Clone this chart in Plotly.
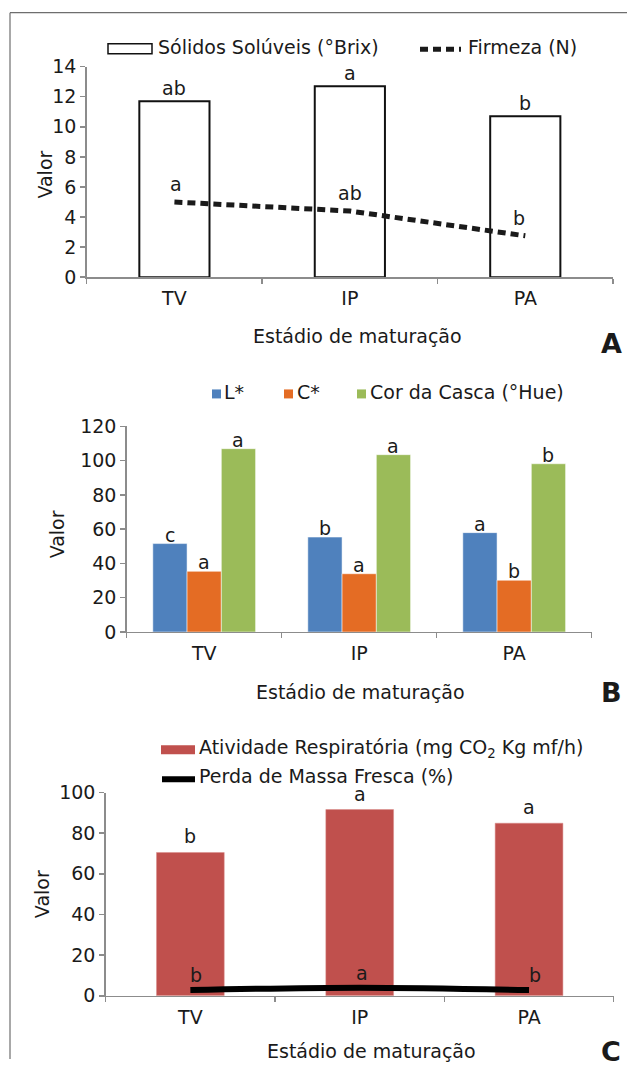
import plotly.graph_objects as go

# ---------------- data ----------------
stages = ["TV", "IP", "PA"]

solidos = [11.7, 12.7, 10.7]          # Sólidos Solúveis (°Brix)
firmeza = [5.0, 4.4, 2.75]            # Firmeza (N)
sig_solidos = ["ab", "a", "b"]
sig_firmeza = ["a", "ab", "b"]

l_star = [51.6, 55.4, 58.0]
c_star = [35.4, 34.0, 30.2]
hue = [107.0, 103.5, 98.2]
sig_l = ["c", "b", "a"]
sig_c = ["a", "a", "b"]
sig_hue = ["a", "a", "b"]

resp = [70.5, 91.6, 84.9]             # Atividade respiratória
perda = [2.8, 4.0, 2.8]               # Perda de massa fresca (%)
sig_resp = ["b", "a", "a"]
sig_perda = ["b", "a", "b"]

# ---------------- helpers ----------------
W, H = 627, 1070
FONT = "DejaVu Sans"
FS = 19
TXT = "#1a1a1a"
AX = "#8c8c8c"

# the photographed page comes out slightly squeezed vertically; pre-compensate
VS, VO = 0.98, 10.35


def px(x):
    return x / W


def py(y):
    return 1 - ((y - VO) / VS) / H


fig = go.Figure()

# Panel A
fig.add_trace(go.Bar(x=stages, y=solidos, width=0.4, xaxis="x", yaxis="y",
                     marker=dict(color="white", line=dict(color="#111111", width=2)),
                     name="Sólidos Solúveis (°Brix)", showlegend=False))
fig.add_trace(go.Scatter(x=stages, y=firmeza, mode="lines", xaxis="x", yaxis="y",
                         line=dict(color="#1a1a1a", width=5, dash="8px,5px"),
                         name="Firmeza (N)", showlegend=False))

# Panel B
colors_b = ["#4F81BD", "#E46C24", "#9BBB59"]
names_b = ["L*", "C*", "Cor da Casca (°Hue)"]
for vals, col, nm in zip([l_star, c_star, hue], colors_b, names_b):
    fig.add_trace(go.Bar(x=stages, y=vals, xaxis="x2", yaxis="y2",
                         marker=dict(color=col, line=dict(color="white", width=0.5)),
                         name=nm, showlegend=False))

# Panel C
fig.add_trace(go.Bar(x=stages, y=resp, width=0.4, xaxis="x3", yaxis="y3",
                     marker=dict(color="#C0504D", line=dict(color="#d98a88", width=0.5)),
                     name="Atividade Respiratória", showlegend=False))
fig.add_trace(go.Scatter(x=stages, y=perda, mode="lines", xaxis="x3", yaxis="y3",
                         line=dict(color="black", width=6, shape="spline"),
                         name="Perda de Massa Fresca (%)", showlegend=False))

BARGAP = 0.337
axis_common = dict(showline=True, linecolor=AX, linewidth=1.5, ticks="outside",
                   tickcolor=AX, tickwidth=1.5, ticklen=5, showgrid=False,
                   zeroline=False, fixedrange=True,
                   tickfont=dict(family=FONT, size=FS, color=TXT))

layout = dict(
    width=W, height=H, margin=dict(l=0, r=0, t=0, b=0),
    paper_bgcolor="white", plot_bgcolor="white",
    barmode="group", bargap=BARGAP, bargroupgap=0,
    showlegend=False,
    font=dict(family=FONT, size=FS, color=TXT),
)

# axis domains (pixel positions of plot areas)
panels = {
    "": dict(x=(86.7, 613.0), y=(66.0, 276.7), rng=[0, 14], dtick=2),
    "2": dict(x=(126.7, 591.7), y=(426.0, 631.7), rng=[0, 120], dtick=20),
    "3": dict(x=(105.7, 613.7), y=(792.3, 995.7), rng=[0, 100], dtick=20),
}
for k, p in panels.items():
    layout["xaxis" + k] = dict(axis_common, domain=[px(p["x"][0]), px(p["x"][1])],
                               anchor="y" + k, type="category", tickson="boundaries",
                               range=[-0.5, 2.5], ticklabelstandoff=4)
    layout["yaxis" + k] = dict(axis_common, domain=[py(p["y"][1]), py(p["y"][0])],
                               anchor="x" + k, range=p["rng"], dtick=p["dtick"],
                               ticklabelstandoff=0)

fig.update_layout(**layout)

ann = []


def lab(text, x, y, xr, yr, yshift=0, xshift=0, size=FS):
    ann.append(dict(text=text, x=x, y=y, xref=xr, yref=yr, showarrow=False,
                    yanchor="bottom", xanchor="center", yshift=yshift, xshift=xshift,
                    font=dict(family=FONT, size=size, color=TXT)))


# significance letters A
for i, s in enumerate(stages):
    lab(sig_solidos[i], s, solidos[i], "x", "y", yshift=0)
    lab(sig_firmeza[i], s, firmeza[i], "x", "y", yshift=5, xshift=(-6 if i == 2 else 0) + (2 if i == 0 else 0))

# significance letters B
wbar = (1 - BARGAP) / 3
for i in range(3):
    for k, (vals, sig) in enumerate(zip([l_star, c_star, hue], [sig_l, sig_c, sig_hue])):
        lab(sig[i], i + (k - 1) * wbar, vals[i], "x2", "y2", yshift=-4)

# significance letters C
for i, s in enumerate(stages):
    lab(sig_resp[i], s, resp[i], "x3", "y3", yshift=3)
    lab(sig_perda[i], s, perda[i], "x3", "y3", yshift=2, xshift=(6 if i != 1 else 2))


def ptext(text, x, y, size=FS, xanchor="left", bold=False, angle=0):
    ann.append(dict(text=("<b>%s</b>" % text) if bold else text, x=px(x), y=py(y),
                    xref="paper", yref="paper", showarrow=False, xanchor=xanchor,
                    yanchor="middle", textangle=angle,
                    font=dict(family=FONT, size=size, color=TXT)))


# axis titles
ptext("Estádio de maturação", 357, 336, xanchor="center")
ptext("Estádio de maturação", 360, 692, xanchor="center")
ptext("Estádio de maturação", 371, 1051, xanchor="center")
ptext("Valor", 45, 174, xanchor="center", angle=-90)
ptext("Valor", 57, 534, xanchor="center", angle=-90)
ptext("Valor", 42, 894, xanchor="center", angle=-90)

# panel letters
ptext("A", 611, 343, size=27, xanchor="center", bold=True)
ptext("B", 611, 692, size=27, xanchor="center", bold=True)
ptext("C", 611, 1051, size=27, xanchor="center", bold=True)

# legends (drawn)
shapes = []
shapes.append(dict(type="rect", xref="paper", yref="paper", x0=px(108), x1=px(152),
                   y0=py(53), y1=py(43), line=dict(color="#111111", width=1.5), fillcolor="white"))
ptext("Sólidos Solúveis (°Brix)", 156, 46)
shapes.append(dict(type="line", xref="paper", yref="paper", x0=px(420), x1=px(461),
                   y0=py(48.5), y1=py(48.5), line=dict(color="#1a1a1a", width=5, dash="8px,5px")))
ptext("Firmeza (N)", 466, 46)

for (x0, x1, tx), col, nm in zip([(212, 221, 222), (284, 293, 295), (357, 366, 368)], colors_b, names_b):
    shapes.append(dict(type="rect", xref="paper", yref="paper", x0=px(x0), x1=px(x1),
                       y0=py(398), y1=py(389), line=dict(width=0), fillcolor=col))
    ptext(nm, tx, 392)

shapes.append(dict(type="rect", xref="paper", yref="paper", x0=px(161), x1=px(195),
                   y0=py(754), y1=py(745), line=dict(width=0), fillcolor="#C0504D"))
ptext("Atividade Respiratória (mg CO<sub>2</sub> Kg mf/h)", 197, 748)
shapes.append(dict(type="line", xref="paper", yref="paper", x0=px(162), x1=px(195),
                   y0=py(779), y1=py(779), line=dict(color="black", width=6)))
ptext("Perda de Massa Fresca (%)", 197, 776)

# outer frame
shapes.append(dict(type="line", xref="paper", yref="paper", x0=px(10), x1=px(627),
                   y0=py(12), y1=py(12), line=dict(color="#6e6e6e", width=1.2)))
shapes.append(dict(type="line", xref="paper", yref="paper", x0=px(10), x1=px(10),
                   y0=py(12), y1=0, line=dict(color="#6e6e6e", width=1.2)))

fig.update_layout(annotations=ann, shapes=shapes)

fig.write_html("out.html", include_plotlyjs=True,
               config={"displayModeBar": False, "staticPlot": True},
               post_script="document.body.style.margin='0';document.body.style.overflow='hidden';")
